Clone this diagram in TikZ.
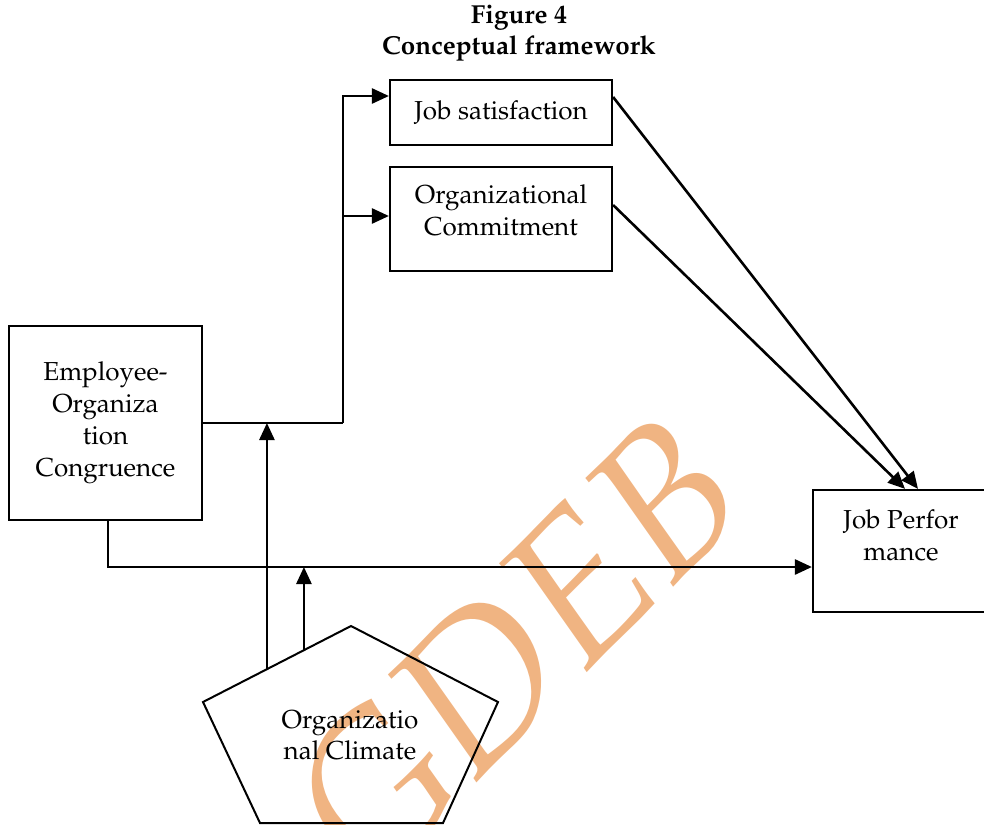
\documentclass[tikz,border=0pt]{standalone}
\usepackage[T1]{fontenc}
\usepackage{mathpazo}
\usetikzlibrary{arrows.meta,calc}
\definecolor{wmark}{RGB}{240,180,130}
\begin{document}
\begin{tikzpicture}[x=1pt,y=-1pt,
    box/.style = {rectangle,draw=black,line width=2.2pt,align=center,inner sep=0pt,font=\fontsize{26}{32}\selectfont},
    conn/.style = {line width=2.6pt,-{Triangle[length=17pt,width=15pt]}},
    wire/.style = {line width=2.6pt}]
\useasboundingbox (0,0) rectangle (984,824);
% watermark
\node[text=wmark,rotate=45,font=\fontsize{200}{200}\itshape\selectfont] (mark) at (515,648) {GDEB};
\node[font=\fontsize{26}{31}\bfseries\selectfont,align=center] (title) at (519,33) {Figure 4\\Conceptual framework};
% boxes
\node[box,minimum width=222,minimum height=65] (js) at (501,112.5) {Job satisfaction};
\node[box,minimum width=222,minimum height=104,text depth=18pt] (oc) at (501,219) {Organizational\\Commitment};
\node[box,minimum width=193,minimum height=194] (ec) at (105.5,423) {Employee-\\Organiza\\tion\\Congruence};
\node[box,minimum width=176,minimum height=122,text depth=32pt] (jp) at (901,551) {Job Perfor\\mance};
% pentagon
\draw[line width=2pt] (351,626) coordinate (ptop) -- (498,702) -- (443,823) -- (260,823) -- (203,702) coordinate (pleft) -- cycle;
\node[align=center,font=\fontsize{26}{31}\selectfont] (clim) at (350,735) {Organizatio\\nal Climate};
\coordinate (c1) at ($(pleft)!0.432!(ptop)$);
\coordinate (c2) at ($(pleft)!0.682!(ptop)$);
% connectors
\draw[wire] (ec.east) -- (343,423) coordinate (fork);
\draw[conn] (fork) |- ([yshift=16.5pt]js.west);
\coordinate (ocin) at ([yshift=3pt]oc.west);
\draw[conn] (ocin -| fork) -- (ocin);
\coordinate (jpin) at ([yshift=-16pt]jp.west);
\draw[conn] ([xshift=2.5pt]ec.south) |- (jpin);
\draw[conn] (c1) -- (c1 |- fork);
\draw[conn] (c2) -- (c2 |- jpin);
\draw[conn] ([yshift=15.5pt]js.east) -- ([xshift=17pt]jp.north);
\draw[conn] ([yshift=14pt]oc.east) -- ([xshift=4pt]jp.north);
\end{tikzpicture}
\end{document}
